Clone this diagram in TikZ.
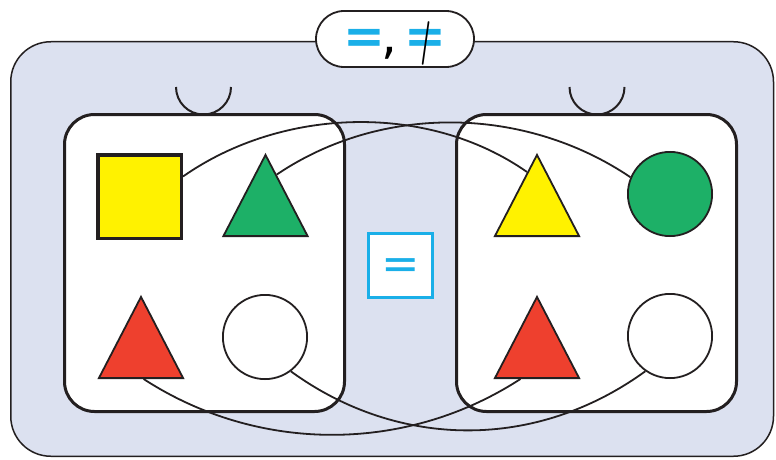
\documentclass[tikz,border=0pt]{standalone}
\usepackage{fontspec}
\usepackage{graphicx}
\usetikzlibrary{shapes.geometric,calc}
\newfontfamily\eqfont{DejaVu Sans}

\definecolor{panel}{HTML}{DCE1F0}
\definecolor{eqblue}{HTML}{1AAFE8}
\definecolor{shapeyellow}{HTML}{FFF200}
\definecolor{shapegreen}{HTML}{1DB067}
\definecolor{shapered}{HTML}{EE402E}
\definecolor{ink}{HTML}{231F20}

\tikzset{
  panelbox/.style={draw=ink, line width=1.5pt, fill=panel, rounded corners=40pt},
  setbox/.style={rectangle, draw=ink, line width=3pt, fill=white, rounded corners=30pt,
    minimum width=280pt, minimum height=297pt, inner sep=0pt},
  handle/.style={draw=ink, line width=2pt},
  link/.style={draw=ink, line width=1.8pt},
  sqshape/.style={rectangle, draw=ink, line width=3.5pt, fill=shapeyellow,
    minimum size=83.5pt, inner sep=0pt},
  trishape/.style={isosceles triangle, shape border rotate=90,
    isosceles triangle stretches, minimum width=84.2pt, minimum height=81.2pt,
    inner sep=0pt, draw=ink, line width=1.8pt, anchor=lower side},
  discshape/.style={circle, draw=ink, line width=1.8pt, minimum size=84.2pt, inner sep=0pt},
  eqbox/.style={rectangle, draw=eqblue, line width=3pt, fill=white,
    minimum size=64pt, inner sep=0pt, text=eqblue},
  pill/.style={rectangle, draw=ink, line width=1.8pt, fill=white, rounded corners=28pt,
    minimum width=158pt, minimum height=56pt, inner sep=0pt},
}

\begin{document}
\begin{tikzpicture}[x=1pt,y=1pt]
\useasboundingbox (0,0) rectangle (776,459);

% outer panel
\draw[panelbox] (10.75,2.75) rectangle (773.5,417.25);

% handles on top of the two sets
\draw[handle] (176,372) arc[start angle=180,end angle=360,radius=27.5];
\draw[handle] (569.5,372) arc[start angle=180,end angle=360,radius=27.5];

% the two sets
\node[setbox] (setA) at (204.5,196) {};
\node[setbox] (setB) at (596.5,196) {};

% members of the left set
\node[sqshape] (ysq) at (139.5,262.5) {};
\node[trishape, fill=shapegreen] (gtri) at (265.5,222) {};
\node[trishape, fill=shapered] (rtriA) at (141,80) {};
\node[discshape, fill=white] (wdiscA) at (265,122) {};

% members of the right set
\node[trishape, fill=shapeyellow] (ytri) at (537,222) {};
\node[discshape, fill=shapegreen] (gdisc) at (670,265) {};
\node[trishape, fill=shapered] (rtriB) at (537,80) {};
\node[discshape, fill=white] (wdiscB) at (670,123) {};

% pairings
\draw[link] ($(ysq.north east)!0.27!(ysq.south east)$)
  to[out=35,in=145,looseness=0.9] ($(ytri.apex)!0.23!(ytri.left corner)$);
\draw[link] ($(gtri.apex)!0.26!(gtri.right corner)$)
  to[out=34,in=146,looseness=0.92] (gdisc.157);
\draw[link] ($(rtriA.left corner)!0.53!(rtriA.right corner)$)
  to[out=-33,in=-147,looseness=0.93] ($(rtriB.left corner)!0.31!(rtriB.right corner)$);
\draw[link] (wdiscA.-53) to[out=-36,in=-144,looseness=0.97] (wdiscB.-125);

% relation between the sets (baseline pinned to the box centre, then lowered)
\node[eqbox] (mideq) at (400.5,194)
  {\raisebox{-14.5pt}[0pt][0pt]{\eqfont\fontsize{46}{46}\selectfont =}};

% relation symbols
\node[pill] (rel) at (395,420) {\raisebox{-15pt}[0pt][0pt]{\eqfont\fontsize{50}{50}\selectfont
  \textcolor{eqblue}{\bfseries =}\kern-4pt,\kern8pt%
  \ooalign{\textcolor{eqblue}{\bfseries =}\cr\hidewidth\rotatebox[origin=c]{-8}{\normalfont\fontsize{44}{44}\selectfont|}\hidewidth\cr}}};
\end{tikzpicture}
\end{document}
